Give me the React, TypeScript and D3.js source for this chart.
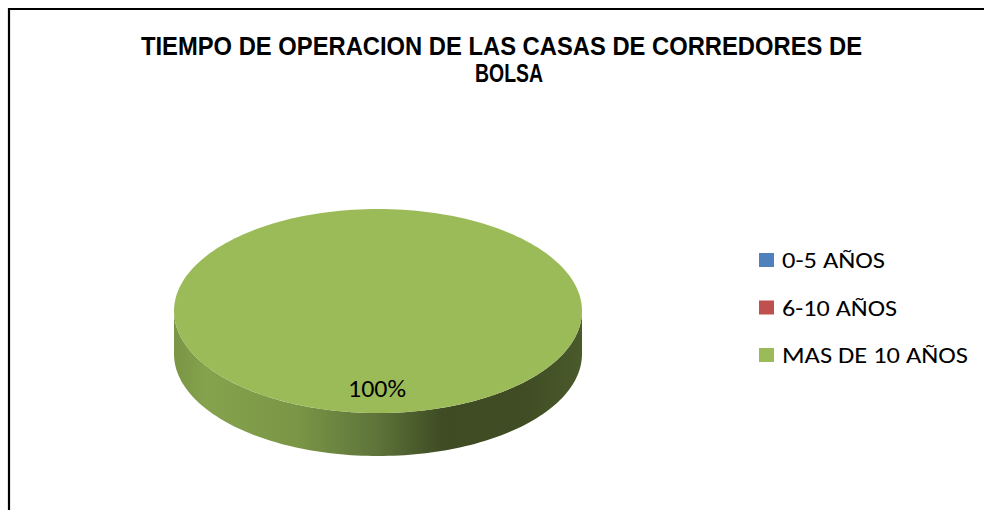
import React from "react";
import * as d3 from "d3";

const categories = ["0-5 AÑOS", "6-10 AÑOS", "MAS DE 10 AÑOS"];
const values = [0, 0, 100];
const colors = ["#4F81BD", "#C0504D", "#9BBB59"];
const titleLines = ["TIEMPO DE OPERACION DE LAS CASAS DE CORREDORES DE", "BOLSA"];
const legendWidths = [103, 115, 186];

const W = 984;
const H = 510;
const cx = 378;
const cy = 311;
const rx = 204;
const ry = 102;
const depth = 43;

function pt(a: number, dy = 0): [number, number] {
  return [cx + rx * Math.sin(a), cy - ry * Math.cos(a) + dy];
}

export default function App() {
  const pie = d3.pie<number>().sort(null).value((d) => d);
  const arcs = pie(values);
  const total = d3.sum(values);
  const line = d3.line();

  const topPath = (s: number, e: number) => {
    const n = Math.max(2, Math.ceil(((e - s) / (2 * Math.PI)) * 200));
    const pts: [number, number][] = d3.range(n + 1).map((i) => pt(s + ((e - s) * i) / n));
    if (e - s < 2 * Math.PI - 1e-6) pts.unshift([cx, cy]);
    return line(pts) + "Z";
  };
  const sidePath = (s: number, e: number) => {
    const lo = Math.max(s, Math.PI / 2);
    const hi = Math.min(e, (3 * Math.PI) / 2);
    if (hi <= lo) return null;
    const n = 120;
    const a = d3.range(n + 1).map((i) => lo + ((hi - lo) * i) / n);
    const pts: [number, number][] = [
      ...a.map((v) => pt(v)),
      ...a.slice().reverse().map((v) => pt(v, depth)),
    ];
    return line(pts) + "Z";
  };

  const legendY = d3.scalePoint<string>().domain(categories).range([268, 363]);

  return (
    <svg
      width={W}
      height={H}
      style={{ position: "absolute", left: 0, top: 0, background: "#fff" }}
    >
      <defs>
        <linearGradient id="sideGrad" x1={cx - rx} x2={cx + rx} y1="0" y2="0" gradientUnits="userSpaceOnUse">
          <stop offset="0" stopColor="#7a9646" />
          <stop offset="0.08" stopColor="#85a24d" />
          <stop offset="0.3" stopColor="#7a9646" />
          <stop offset="0.5" stopColor="#5d733a" />
          <stop offset="0.66" stopColor="#3e4b23" />
          <stop offset="0.85" stopColor="#3f4c24" />
          <stop offset="1" stopColor="#4a5a2b" />
        </linearGradient>
      </defs>
      <rect x={0} y={0} width={W} height={H} fill="#fff" />
      <path d={`M9,${H + 5} L9,9 L${W + 5},9`} fill="none" stroke="#000" strokeWidth={2.2} />

      {titleLines.map((t, i) => (
        <text
          key={i}
          x={i === 0 ? 141 : 475}
          y={55 + i * 27}
          textLength={i === 0 ? 721 : 68}
          lengthAdjust="spacingAndGlyphs"
          fontFamily="'Liberation Sans', Arial, sans-serif"
          fontWeight="bold"
          fontSize={25}
          fill="#000"
        >
          {t}
        </text>
      ))}

      {arcs.map((a, i) =>
        a.endAngle - a.startAngle > 0 ? (
          <g key={"s" + i}>
            {sidePath(a.startAngle, a.endAngle) && (
              <path d={sidePath(a.startAngle, a.endAngle)!} fill="url(#sideGrad)" />
            )}
          </g>
        ) : null
      )}
      {arcs.map((a, i) =>
        a.endAngle - a.startAngle > 0 ? (
          <path key={"t" + i} d={topPath(a.startAngle, a.endAngle)} fill={colors[i]} />
        ) : null
      )}
      {arcs.map((a, i) =>
        a.value > 0 ? (
          <text
            key={"l" + i}
            x={cx - 1}
            y={397}
            textAnchor="middle"
            fontFamily="Carlito, Calibri, 'Open Sans', sans-serif"
            fontSize={24}
            textLength={58}
            lengthAdjust="spacingAndGlyphs"
            fill="#000"
          >
            {Math.round((a.value / total) * 100) + "%"}
          </text>
        ) : null
      )}

      {categories.map((c, i) => (
        <g key={c}>
          <rect x={759} y={legendY(c)! - 15} width={15} height={14} fill={colors[i]} />
          <text
            x={782}
            y={legendY(c)!}
            fontFamily="Carlito, Calibri, 'Open Sans', sans-serif"
            fontSize={22}
            textLength={legendWidths[i]}
            lengthAdjust="spacingAndGlyphs"
            fill="#000"
          >
            {c}
          </text>
        </g>
      ))}
    </svg>
  );
}
